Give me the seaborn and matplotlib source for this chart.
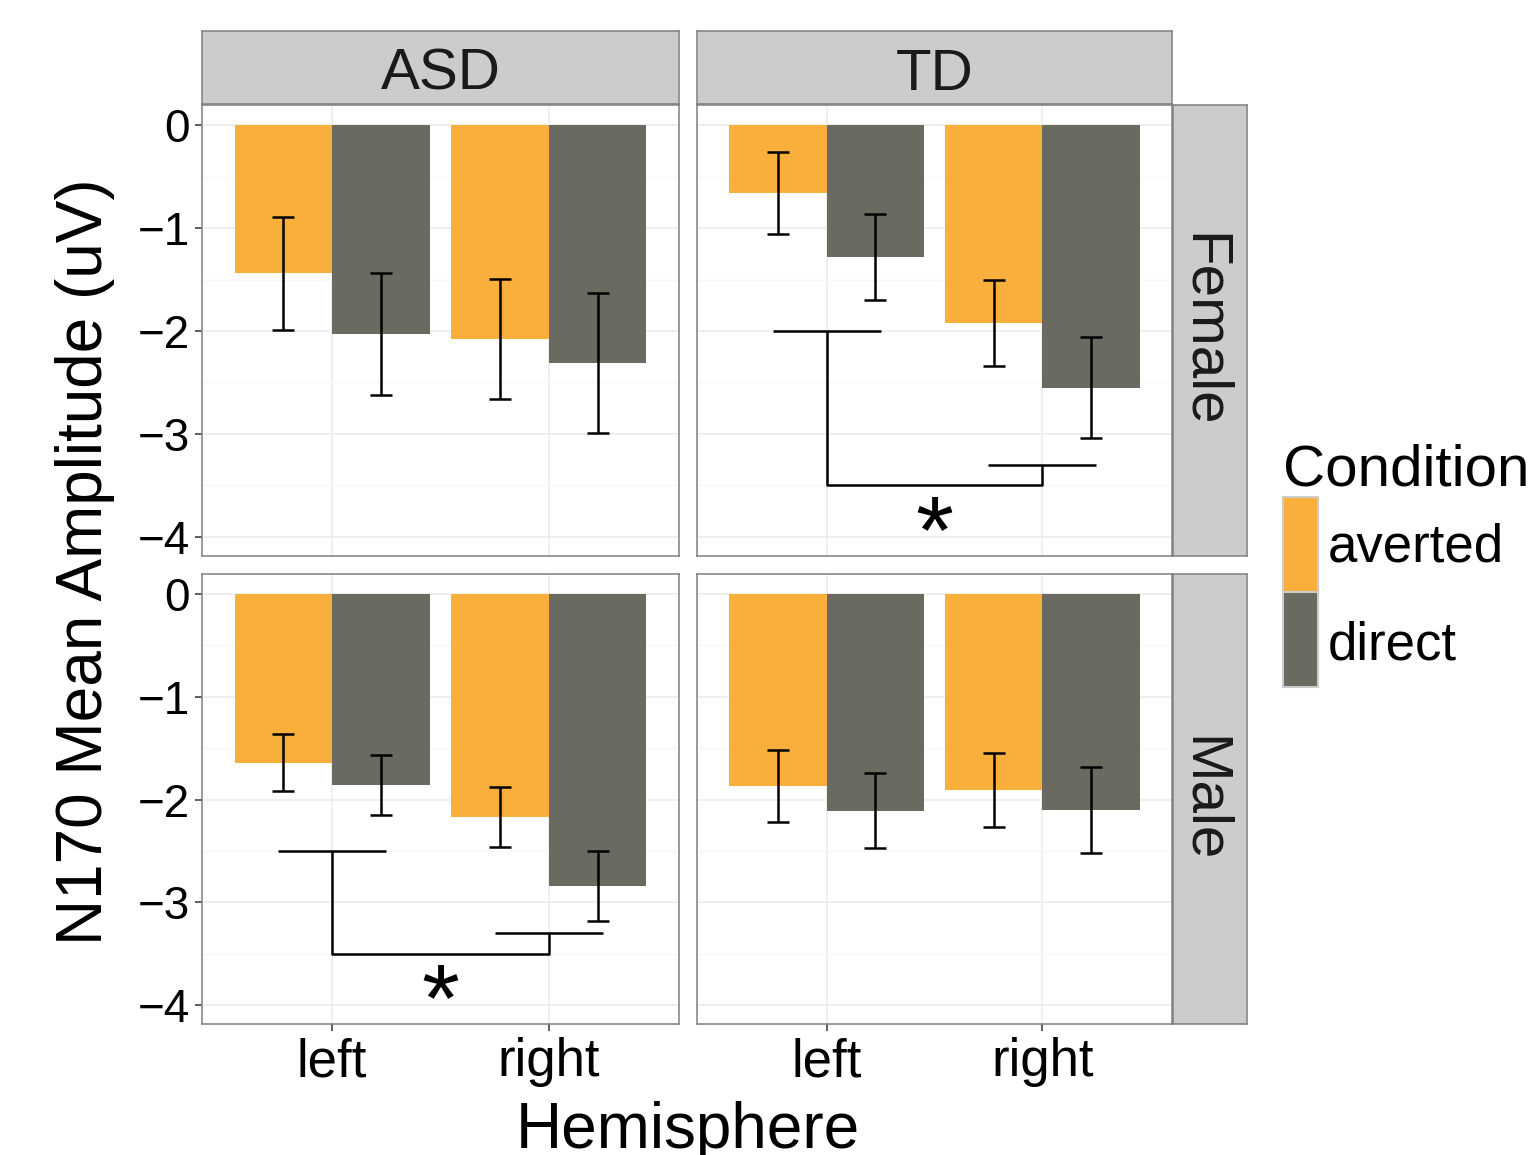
import numpy as np
import pandas as pd
import matplotlib
matplotlib.use("Agg")
import matplotlib.pyplot as plt
import matplotlib.transforms as mtransforms
from matplotlib.patches import Rectangle
import seaborn as sns

# ---------------- data ----------------
groups = ["ASD", "TD"]
sexes = ["Female", "Male"]
hemispheres = ["left", "right"]
conditions = ["averted", "direct"]

# order within each panel: left-averted, left-direct, right-averted, right-direct
asd_female_mean = [-1.44, -2.03, -2.08, -2.31]
asd_female_se = [0.55, 0.59, 0.585, 0.68]
td_female_mean = [-0.66, -1.28, -1.92, -2.55]
td_female_se = [0.40, 0.42, 0.42, 0.49]
asd_male_mean = [-1.64, -1.86, -2.17, -2.84]
asd_male_se = [0.28, 0.29, 0.295, 0.34]
td_male_mean = [-1.87, -2.11, -1.91, -2.10]
td_male_se = [0.35, 0.365, 0.36, 0.42]

y_ticks = [0, -1, -2, -3, -4]

# significance brackets (panel, top-level of left bracket)
sig_panels = [("TD", "Female"), ("ASD", "Male")]
sig_left_y = [-2.0, -2.5]
sig_low_y = -3.5
sig_right_y = -3.3
sig_star_y = -3.8
sig_label = "*"

colors = {"averted": "#F9AF3C", "direct": "#6A6A60"}

panel_data = {
    ("ASD", "Female"): (asd_female_mean, asd_female_se),
    ("TD", "Female"): (td_female_mean, td_female_se),
    ("ASD", "Male"): (asd_male_mean, asd_male_se),
    ("TD", "Male"): (td_male_mean, td_male_se),
}
rows = []
for (g, s), (means, ses) in panel_data.items():
    i = 0
    for h in hemispheres:
        for c in conditions:
            rows.append(dict(Group=g, Sex=s, Hemisphere=h, Condition=c,
                             Amplitude=means[i], SE=ses[i]))
            i += 1
df = pd.DataFrame(rows)

# ---------------- figure ----------------
sns.set_style("white")
plt.rcParams['font.family'] = ['Liberation Sans', 'DejaVu Sans']

W, H = 1529, 1155
fig = plt.figure(figsize=(W / 100, H / 100), dpi=100)


def box(x0, y0, x1, y1):
    return [x0 / W, 1 - y1 / H, (x1 - x0) / W, (y1 - y0) / H]


col_px = {"ASD": (202, 679), "TD": (697, 1172)}
row_px = {"Female": (105, 556), "Male": (574, 1024)}
border_col = "#7F7F7F"
lw_line = 1.8

for s in sexes:
    for g in groups:
        x0, x1 = col_px[g]
        y0, y1 = row_px[s]
        ax = fig.add_axes(box(x0, y0, x1, y1))
        sub = df[(df.Group == g) & (df.Sex == s)]
        sns.barplot(data=sub, x="Hemisphere", y="Amplitude", hue="Condition",
                    order=hemispheres, hue_order=conditions, palette=colors,
                    width=0.9, saturation=1, errorbar=None, legend=False, ax=ax,
                    linewidth=0, edgecolor='none')
        # error bars
        for cont, cond in zip(ax.containers, conditions):
            for bar, hemi in zip(cont, hemispheres):
                r = sub[(sub.Hemisphere == hemi) & (sub.Condition == cond)].iloc[0]
                xc = bar.get_x() + bar.get_width() / 2
                ax.errorbar(xc, r.Amplitude, yerr=r.SE, fmt='none', ecolor='black',
                            elinewidth=lw_line, capsize=7.8, capthick=lw_line, zorder=3)
        ax.set_xlim(-0.6, 1.6)
        ax.set_ylim(-4.185, 0.195)
        ax.set_yticks(y_ticks)
        ax.set_yticks([-0.5, -1.5, -2.5, -3.5], minor=True)
        ax.set_axisbelow(True)
        ax.grid(True, which='major', color='#EBEBEB', lw=1.1)
        ax.grid(True, which='minor', axis='y', color='#F7F7F7', lw=0.9)
        ax.tick_params(which='minor', length=0)
        ax.set_xlabel("")
        ax.set_ylabel("")
        for sp in ax.spines.values():
            sp.set_visible(True)
            sp.set_color(border_col)
            sp.set_linewidth(1.1)
        if g == "ASD":
            ax.tick_params(axis='y', which='major', length=5, width=1.1, color='#333333',
                           pad=4, labelsize=33, labelcolor='black', left=True)
        else:
            ax.tick_params(axis='y', which='major', length=0, labelleft=False)
        if s == "Male":
            ax.tick_params(axis='x', which='major', length=5, width=1.1, color='#333333',
                           pad=4.5, labelsize=38, labelcolor='black', bottom=True)
        else:
            ax.tick_params(axis='x', which='major', length=0, labelbottom=False)

        # significance bracket
        if (g, s) in sig_panels:
            top = sig_left_y[sig_panels.index((g, s))]
            kw = dict(color='black', lw=lw_line, solid_capstyle='butt', clip_on=False, zorder=4)
            ax.plot([-0.25, 0.25], [top, top], **kw)
            ax.plot([0, 0, 1, 1], [top, sig_low_y, sig_low_y, sig_right_y], **kw)
            ax.plot([0.75, 1.25], [sig_right_y, sig_right_y], **kw)
            fs = 70
            tr = mtransforms.offset_copy(ax.transData, fig=fig, y=-0.48 * fs, units='points')
            ax.text(0.5, sig_star_y, sig_label, transform=tr, ha='center', va='baseline',
                    fontsize=fs, color='black')

# strips
for g in groups:
    x0, x1 = col_px[g]
    sax = fig.add_axes(box(x0, 31, x1, 104))
    sax.set_facecolor('#CCCCCC')
    sax.set_xticks([]); sax.set_yticks([])
    for sp in sax.spines.values():
        sp.set_color(border_col); sp.set_linewidth(1.1)
    sax.text(0.5, (104 - 90) / 73, g, ha='center', va='baseline', fontsize=42,
             color='#1A1A1A', transform=sax.transAxes)
for s in sexes:
    y0, y1 = row_px[s]
    sax = fig.add_axes(box(1173, y0, 1247, y1))
    sax.set_facecolor('#CCCCCC')
    sax.set_xticks([]); sax.set_yticks([])
    for sp in sax.spines.values():
        sp.set_color(border_col); sp.set_linewidth(1.1)
    sax.text((1188 - 1173) / 74, 0.5, s, ha='center', va='baseline', rotation=-90,
             rotation_mode='anchor', fontsize=42, color='#1A1A1A', transform=sax.transAxes)

# axis titles
fig.text(85 / W, 1 - 562 / H, "N170 Mean Amplitude (uV)", rotation=90, ha='center',
         va='center', fontsize=46, color='black')
fig.text(688 / W, 1 - 1148 / H, "Hemisphere", ha='center', va='baseline', fontsize=46,
         color='black')

# legend (ggplot-style: touching tall keys)
fig.text(1283 / W, 1 - 485 / H, "Condition", ha='left', va='baseline', fontsize=42,
         color='black')
key_top = [497, 592]
key_base = [562, 659]
for c, kt, kb in zip(conditions, key_top, key_base):
    fig.add_artist(Rectangle((1283 / W, 1 - (kt + 95) / H), 35 / W, 95 / H,
                             transform=fig.transFigure, facecolor=colors[c],
                             edgecolor='#CCCCCC', linewidth=1.5))
    fig.text(1328 / W, 1 - kb / H, c, ha='left', va='baseline', fontsize=38, color='black')

fig.savefig("out.png", dpi=100)
